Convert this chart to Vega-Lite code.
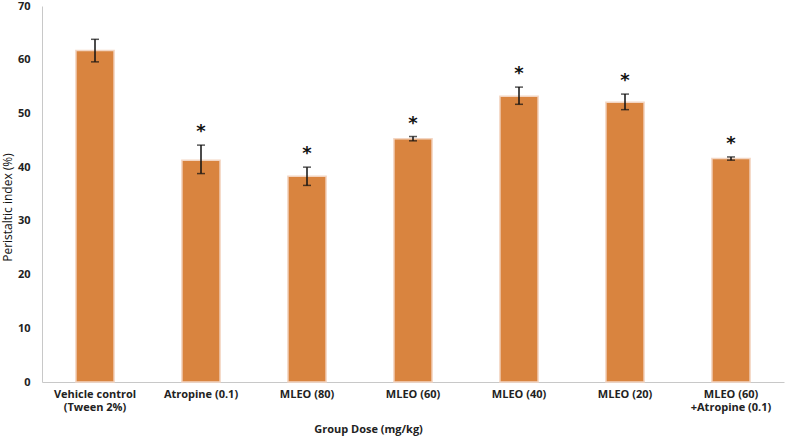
{
  "$schema": "https://vega.github.io/schema/vega-lite/v6.json",
  "width": 742,
  "height": 376,
  "autosize": "none",
  "padding": {"left": 42, "top": 6, "right": 1, "bottom": 55},
  "background": "white",
  "config": {"view": {"stroke": null}, "font": "Open Sans"},
  "data": {"values": [
    {"group": "Vehicle control|(Tween 2%)", "mean": 61.7, "lo": 59.6, "hi": 63.8, "sig": ""},
    {"group": "Atropine (0.1)", "mean": 41.3, "lo": 38.8, "hi": 44.1, "sig": "*"},
    {"group": "MLEO (80)", "mean": 38.3, "lo": 36.6, "hi": 40.0, "sig": "*"},
    {"group": "MLEO (60)", "mean": 45.3, "lo": 44.9, "hi": 45.7, "sig": "*"},
    {"group": "MLEO (40)", "mean": 53.2, "lo": 51.7, "hi": 54.9, "sig": "*"},
    {"group": "MLEO (20)", "mean": 52.1, "lo": 50.7, "hi": 53.6, "sig": "*"},
    {"group": "MLEO (60)|+Atropine (0.1)", "mean": 41.6, "lo": 41.3, "hi": 41.9, "sig": "*"}
  ]},
  "encoding": {
    "x": {
      "field": "group", "type": "nominal", "sort": null,
      "scale": {"paddingInner": 0.64, "paddingOuter": 0.32},
      "axis": {
        "title": "Group Dose (mg/kg)",
        "labelAngle": 0,
        "labelExpr": "split(datum.label, '|')",
        "labelFont": "Open Sans", "labelFontWeight": "bold", "labelFontSize": 11, "labelColor": "#222",
        "labelLineHeight": 13, "labelPadding": 6,
        "ticks": false, "domainColor": "#c8c8c8",
        "titleFont": "Open Sans", "titleFontWeight": "bold", "titleFontSize": 11, "titleColor": "#222",
        "titleX": 326, "titleY": 41, "titleAlign": "center"
      }
    }
  },
  "layer": [
    {
      "mark": {"type": "bar", "color": "#D9843F", "stroke": "#F3D5C2", "strokeWidth": 1.5},
      "encoding": {
        "y": {
          "field": "mean", "type": "quantitative",
          "scale": {"domain": [0, 70]},
          "axis": {
            "title": "Peristaltic index (%)",
            "values": [0, 10, 20, 30, 40, 50, 60, 70],
            "grid": false, "ticks": false, "domainColor": "#c8c8c8",
            "labelFont": "Open Sans", "labelFontWeight": "bold", "labelFontSize": 11, "labelColor": "#222",
            "labelPadding": 12,
            "titleFont": "Open Sans", "titleFontWeight": "normal", "titleFontSize": 12, "titleColor": "#111",
            "titleX": -28, "titleY": 201, "titleAlign": "center"
          }
        }
      }
    },
    {
      "mark": {"type": "rule", "color": "#111", "strokeWidth": 1.5},
      "encoding": {"y": {"field": "lo", "type": "quantitative"}, "y2": {"field": "hi"}}
    },
    {
      "mark": {"type": "tick", "color": "#111", "size": 8, "thickness": 1.5},
      "encoding": {"y": {"field": "lo", "type": "quantitative"}}
    },
    {
      "mark": {"type": "tick", "color": "#111", "size": 8, "thickness": 1.5},
      "encoding": {"y": {"field": "hi", "type": "quantitative"}}
    },
    {
      "mark": {"type": "text", "fontSize": 18, "fontWeight": "bold", "color": "#111", "baseline": "middle", "dy": -13, "font": "DejaVu Sans"},
      "encoding": {"y": {"field": "hi", "type": "quantitative"}, "text": {"field": "sig"}}
    }
  ]
}
